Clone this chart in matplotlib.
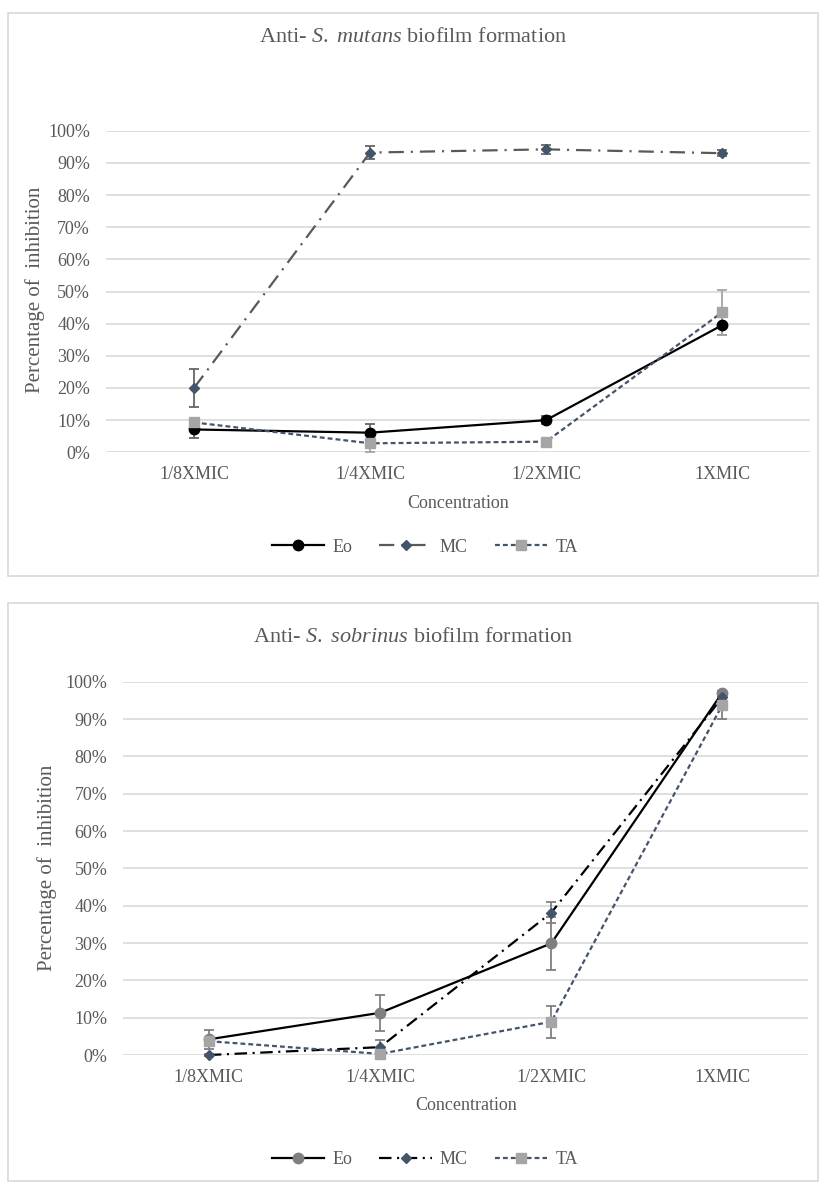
import matplotlib
matplotlib.use("Agg")
import matplotlib.pyplot as plt
from matplotlib.lines import Line2D
from matplotlib.patches import Rectangle
import numpy as np

plt.rcParams['font.family'] = ['Liberation Serif', 'DejaVu Serif']
plt.rcParams['mathtext.fontset'] = 'custom'
plt.rcParams['mathtext.rm'] = 'Liberation Serif'
plt.rcParams['mathtext.it'] = 'Liberation Serif:italic'
plt.rcParams['lines.scale_dashes'] = False

concentrations = ['1/8XMIC', '1/4XMIC', '1/2XMIC', '1XMIC']
y_ticks = [0, 10, 20, 30, 40, 50, 60, 70, 80, 90, 100]

# S. mutans (%)
mutans_eo = [7.1, 6.1, 10.0, 39.5]
mutans_eo_err = [2.7, 2.7, 1.2, 3.0]
mutans_mc = [20.0, 93.2, 94.2, 93.0]
mutans_mc_err = [6.0, 2.0, 1.5, 1.0]
mutans_ta = [9.3, 2.8, 3.3, 43.5]
mutans_ta_err = [1.0, 2.7, 0.5, 7.0]

# S. sobrinus (%)
sobrinus_eo = [4.2, 11.3, 29.9, 97.1]
sobrinus_eo_err = [2.5, 4.8, 7.2, 0.5]
sobrinus_mc = [0.0, 2.1, 38.1, 95.8]
sobrinus_mc_err = [0.3, 2.0, 2.8, 0.5]
sobrinus_ta = [3.7, 0.3, 8.9, 93.8]
sobrinus_ta_err = [1.0, 0.5, 4.3, 3.8]

TEXT = '#595959'
GRID = '#d9d9d9'
SLATE = '#44546a'
W, H = 825, 1182


def fx(px):
    return px / W


def fy(px):
    return 1 - px / H


def draw_panel(ax, series):
    x = np.arange(len(concentrations))
    for s in series:
        ax.errorbar(x, s['y'], yerr=s['err'], color=s['color'], ls=s['ls'], lw=1.6,
                    marker=s['marker'], ms=s['ms'], mfc=s['mc'], mec=s['mc'],
                    ecolor=s['ecolor'], elinewidth=1.3, capsize=3.5, capthick=1.3,
                    clip_on=False, label=s['label'])
    ax.set_xlim(-0.5, len(concentrations) - 0.5)
    ax.set_ylim(0, 100)
    ax.set_xticks(x)
    ax.set_xticklabels(concentrations)
    ax.set_yticks(y_ticks)
    ax.set_yticklabels([f'{v}%' for v in y_ticks])
    ax.tick_params(length=0, labelsize=13, labelcolor=TEXT)
    ax.tick_params(axis='y', pad=11.5)
    ax.tick_params(axis='x', pad=10)
    ax.grid(axis='y', color=GRID, lw=1.2)
    ax.set_axisbelow(True)
    for sp in ax.spines.values():
        sp.set_visible(False)


def add_legend(series, y_px):
    handles = [Line2D([], [], color=s['color'], ls=s['ls'], lw=1.6, marker=s['marker'],
                      ms=s['ms'], mfc=s['mc'], mec=s['mc']) for s in series]
    fig.legend(handles, [s['label'] for s in series], loc='center',
               bbox_to_anchor=(fx(425), fy(y_px)), ncol=3, frameon=False,
               handlelength=2.9, columnspacing=1.5, handletextpad=0.45,
               fontsize=13, labelcolor=TEXT)


fig = plt.figure(figsize=(W / 100, H / 100), dpi=100)

# outer frames
fig.patches.append(Rectangle((fx(7.5), fy(576)), fx(818 - 7.5), (576 - 12.7) / H,
                             transform=fig.transFigure, fill=False, ec=GRID, lw=1.2))
fig.patches.append(Rectangle((fx(7.5), fy(1181)), fx(818 - 7.5), (1181 - 603) / H,
                             transform=fig.transFigure, fill=False, ec=GRID, lw=1.2))

# top panel
top_series = [
    dict(y=mutans_eo, err=mutans_eo_err, label='Eo', color='black', ls='-',
         marker='o', ms=7.5, mc='black', ecolor='#666666'),
    dict(y=mutans_mc, err=mutans_mc_err, label='MC', color='#595959',
         ls=(0, (11, 5, 1.5, 5)), marker='D', ms=5.5, mc=SLATE, ecolor='#666666'),
    dict(y=mutans_ta, err=mutans_ta_err, label='TA', color=SLATE,
         ls=(0, (3.5, 2.2)), marker='s', ms=7.5, mc='#a5a5a5', ecolor='#a5a5a5'),
]
ax1 = fig.add_axes([fx(106), fy(452.3), fx(810 - 106), 321.6 / H])
draw_panel(ax1, top_series)
fig.text(fx(413), fy(37), r'Anti- $\mathit{S.\ mutans}$ biofilm formation',
         ha='center', va='center', fontsize=16, color=TEXT)
fig.text(fx(35), fy(290), 'Percentage of  inhibition', rotation=90,
         ha='center', va='center', fontsize=15, color=TEXT)
fig.text(fx(458), fy(503), 'Concentration', ha='center', va='center',
         fontsize=13, color=TEXT)
add_legend(top_series, 547)

# bottom panel
bottom_series = [
    dict(y=sobrinus_eo, err=sobrinus_eo_err, label='Eo', color='black', ls='-',
         marker='o', ms=7.5, mc='#7f7f7f', ecolor='#7f7f7f'),
    dict(y=sobrinus_mc, err=sobrinus_mc_err, label='MC', color='black',
         ls=(0, (9, 4, 1.5, 4)), marker='D', ms=5.5, mc=SLATE, ecolor='#7f7f7f'),
    dict(y=sobrinus_ta, err=sobrinus_ta_err, label='TA', color=SLATE,
         ls=(0, (3.5, 2.2)), marker='s', ms=7.5, mc='#a5a5a5', ecolor='#7f7f7f'),
]
ax2 = fig.add_axes([fx(123.3), fy(1055), fx(808 - 123.3), 373.3 / H])
draw_panel(ax2, bottom_series)
fig.text(fx(413), fy(638), r'Anti- $\mathit{S.\ sobrinus}$ biofilm formation',
         ha='center', va='center', fontsize=16, color=TEXT)
fig.text(fx(47), fy(868), 'Percentage of  inhibition', rotation=90,
         ha='center', va='center', fontsize=15, color=TEXT)
fig.text(fx(466), fy(1105), 'Concentration', ha='center', va='center',
         fontsize=13, color=TEXT)
add_legend(bottom_series, 1160)

fig.savefig('out.png', dpi=100)
